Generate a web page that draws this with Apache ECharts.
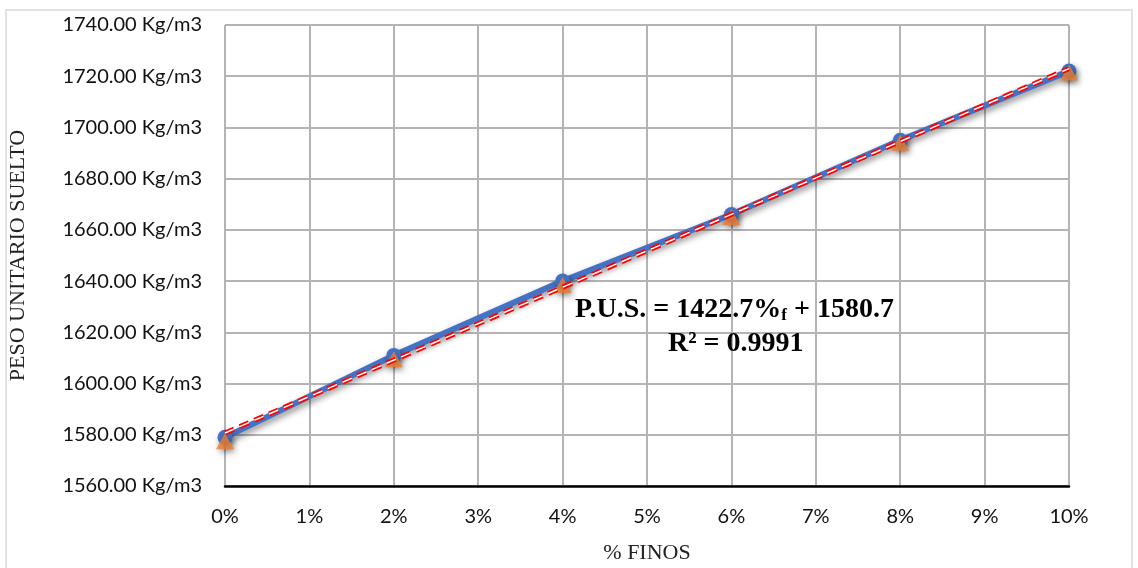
<!DOCTYPE html>
<html>
<head>
<meta charset="utf-8">
<script src="https://cdn.jsdelivr.net/npm/echarts@6/dist/echarts.min.js"></script>
<style>
  html, body { margin: 0; padding: 0; background: #fff; }
  #chart { width: 1138px; height: 568px; }
</style>
</head>
<body>
<div id="chart"></div>
<script>
// % finos
const finos = [0, 2, 4, 6, 8, 10];
// peso unitario suelto (Kg/m3), measured
const pesoMedido = [1579, 1611, 1640, 1666, 1695, 1722];
// second marker series (triangles)
const pesoTriangulo = [1577.5, 1609.5, 1638.5, 1665, 1694, 1721.5];
// linear trend from P.U.S. = 1422.7%f + 1580.7
const trendX = [0, 10];
const trendY = [1580.7, 1722.97];

const xTicks = { min: 0, max: 10, interval: 1 };
const yTicks = { min: 1560, max: 1740, interval: 20 };

const chart = echarts.init(document.getElementById('chart'));

const pair = (xs, ys) => xs.map((x, i) => [x, ys[i]]);
const shadow = { shadowBlur: 6, shadowColor: 'rgba(0,0,0,0.45)', shadowOffsetX: 2, shadowOffsetY: 3 };

const option = {
    backgroundColor: '#fff',
    animation: false,
    grid: { left: 225, right: 69, top: 25, bottom: 82, outerBoundsMode: 'none', containLabel: false },
    xAxis: {
        type: 'value',
        min: xTicks.min, max: xTicks.max, interval: xTicks.interval,
        name: '% FINOS',
        nameLocation: 'middle',
        nameGap: 56,
        nameTextStyle: { fontFamily: 'Liberation Serif', fontSize: 22, color: '#222' },
        axisLine: { show: true, lineStyle: { color: '#000', width: 2.5 } },
        axisTick: { show: false },
        axisLabel: { formatter: '{value}%', margin: 21, fontFamily: 'Lato', fontSize: 20, color: '#111' },
        splitLine: { show: true, lineStyle: { color: '#b5b3b3', width: 2 } }
    },
    yAxis: {
        type: 'value',
        min: yTicks.min, max: yTicks.max, interval: yTicks.interval,
        name: 'PESO UNITARIO SUELTO',
        nameLocation: 'middle',
        nameGap: 196,
        nameTextStyle: { fontFamily: 'Liberation Serif', fontSize: 22, color: '#222' },
        axisLine: { show: false },
        axisTick: { show: false },
        axisLabel: { formatter: v => v.toFixed(2) + ' Kg/m3', margin: 23, fontFamily: 'Lato', fontSize: 20, color: '#111' },
        splitLine: { show: true, lineStyle: { color: '#b5b3b3', width: 2 } }
    },
    series: [
        {
            type: 'line',
            data: pair(finos, pesoMedido),
            symbol: 'circle',
            symbolSize: 15,
            lineStyle: Object.assign({ color: '#4472C4', width: 6 }, shadow),
            itemStyle: Object.assign({ color: '#4472C4' }, shadow),
            z: 2
        },
        {
            type: 'scatter',
            data: pair(finos, pesoTriangulo),
            symbol: 'triangle',
            symbolSize: [18, 16],
            itemStyle: Object.assign({ color: '#ED7D31' }, shadow),
            z: 3
        },
        {
            type: 'line',
            data: pair(trendX, trendY),
            symbol: 'none',
            lineStyle: { color: '#ff0000', width: 5, type: [10, 6] },
            z: 4
        },
        {
            type: 'line',
            data: pair(trendX, trendY),
            symbol: 'none',
            lineStyle: { color: '#ffffff', width: 1.5, type: [10, 6] },
            z: 5
        }
    ],
    graphic: [
        {
            type: 'rect',
            shape: { x: 6, y: 10, width: 1126, height: 570 },
            style: { fill: 'none', stroke: '#d9d9d9', lineWidth: 1.5 },
            silent: true, z: -1
        },
        {
            type: 'text',
            left: 575, top: 296,
            z: 10,
            style: {
                text: '{b|P.U.S. = 1422.7%}{s|f}{b| + 1580.7}',
                rich: {
                    b: { fontFamily: 'Liberation Serif', fontWeight: 'bold', fontSize: 28, fill: '#000' },
                    s: { fontFamily: 'Liberation Serif', fontWeight: 'bold', fontSize: 17, fill: '#000', padding: [12, 0, 0, 0] }
                }
            }
        },
        {
            type: 'text',
            left: 668, top: 330,
            z: 10,
            style: { text: 'R² = 0.9991', fontFamily: 'Liberation Serif', fontWeight: 'bold', fontSize: 28, fill: '#000' }
        }
    ]
};

chart.setOption(option);
</script>
</body>
</html>
